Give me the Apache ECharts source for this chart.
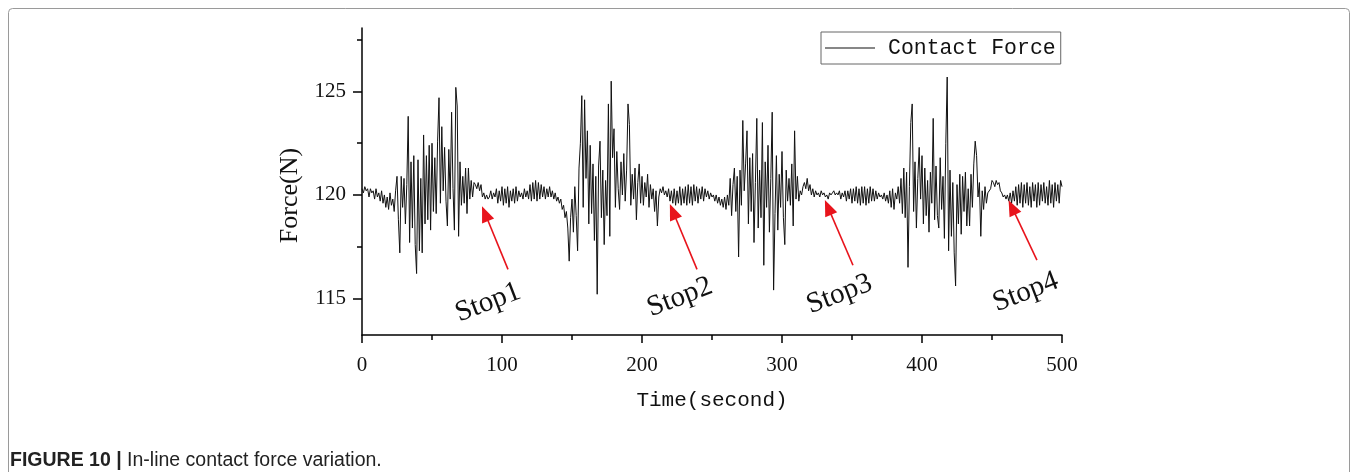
<!DOCTYPE html>
<html>
<head>
<meta charset="utf-8">
<script src="https://cdn.jsdelivr.net/npm/echarts@6/dist/echarts.min.js"></script>
<style>
  html, body { margin: 0; padding: 0; background: #fff; }
  #chart { width: 1354px; height: 472px; }
</style>
</head>
<body>
<div id="chart"></div>
<script>
// 采样间隔（秒）
const timeStep = 1;

// 接触力 (N)，每秒一个点，按时间段分开
const forceA = [ // 0 - 124 s
  120.3,120.1,120.4,120.2,120.3,119.9,120.3,120.1,120.2,119.8,120.3,119.9,120.1,119.7,120.2,119.6,120.0,119.4,119.9,119.3,120.1,119.5,119.8,119.2,120.2,
  120.9,118.8,117.2,120.9,119.4,120.8,118.6,120.5,123.8,117.7,
  121.6,118.4,121.9,117.6,116.2,121.7,117.3,120.8,117.2,122.9,
  118.6,121.9,118.8,122.4,118.3,122.5,119.2,121.8,119.1,122.6,
  124.7,119.6,123.3,120.2,122.3,119.7,118.5,122.2,119.8,124.0,
  120.3,118.3,125.2,124.3,118.0,121.6,119.5,120.9,119.6,121.3,
  119.1,121.3,119.8,120.7,119.9,120.6,
  120.5,120.3,120.6,120.2,120.5,119.9,120.1,119.8,120.0,119.8,
  119.9,120.2,119.8,120.1,119.9,120.3,119.6,120.2,119.7,120.4,
  119.5,120.3,119.6,120.4,119.4,120.2,119.7,120.3,119.6,120.4,
  119.7,120.2,119.9,120.1,119.8,120.3,119.9,120.2,119.8,120.5,
  119.7,120.6,119.8,120.7
];
const forceB = [ // 125 - 249 s
  119.7,120.6,119.8,120.5,119.9,120.4,119.8,120.3,119.9,120.4,119.9,120.2,119.8,120.1,119.7,119.9,
  119.6,119.8,119.3,119.5,118.9,119.2,118.4,116.8,118.9,119.8,
  118.2,120.4,119.0,117.3,121.3,122.5,124.8,119.4,124.6,120.8,
  123.1,118.6,122.4,119.1,121.5,117.8,120.9,115.2,
  121.4,122.6,118.9,121.2,117.6,120.7,119.0,124.4,118.0,125.5,
  121.8,123.2,119.4,122.1,120.3,119.3,121.6,120.0,122.0,119.7,
  121.2,124.4,123.4,119.5,121.0,119.8,121.3,118.8,120.6,121.5,
  119.6,120.9,119.5,120.6,119.9,121.0,119.4,120.5,119.8,120.3,
  119.2,120.2,118.5,119.9,
  120.3,120.1,120.4,120.0,120.2,119.9,120.3,119.7,120.2,119.6,
  120.3,119.5,120.2,119.6,120.4,119.5,120.3,119.6,120.4,119.5,
  120.5,119.6,120.4,119.5,120.5,119.7,120.4,119.6,120.3,119.8,
  120.4,119.7,120.3,119.9,120.2,119.8,120.1
];
const forceC = [ // 250 - 374 s
  119.9,120.0,119.7,120.0,119.6,119.9,119.5,119.8,119.4,119.9,119.3,120.0,119.5,
  120.8,119.0,120.5,121.3,119.2,120.9,117.0,121.2,119.5,123.6,
  120.2,121.5,123.1,118.6,121.8,119.2,122.0,117.7,120.6,123.7,
  118.4,121.2,118.9,123.5,116.6,121.6,119.4,122.4,118.2,120.8,
  124.0,115.4,119.1,121.9,118.3,121.0,119.4,122.1,118.9,117.6,
  121.2,119.7,120.8,119.5,121.5,118.5,123.1,119.8,120.9,119.7,
  120.2,120.0,120.4,120.6,120.3,120.8,120.2,120.5,120.0,120.3,
  119.9,120.2,120.0,120.1,119.9,120.2,120.0,120.1,119.9,120.0,
  119.8,120.1,120.0,120.1,120.2,120.0,120.1,120.0,120.2,119.8,
  120.1,119.9,120.2,119.7,120.2,119.8,120.3,119.6,120.3,119.7,
  120.4,119.6,120.3,119.5,120.4,119.6,120.4,119.5,120.3,119.6,
  120.4,119.7,120.3,119.7,120.2,119.8,120.1,119.9,120.0,119.8,
  120.1,119.7
];
const forceD = [ // 375 - 500 s
  120.0,119.6,120.2,119.4,120.3,119.3,120.1,119.8,120.4,119.6,
  120.8,119.1,121.3,118.9,121.1,116.5,120.4,123.5,124.4,119.2,
  121.6,118.4,120.8,122.3,119.8,121.9,118.6,121.3,119.0,120.7,
  118.2,121.1,119.6,123.7,118.8,121.4,119.0,118.4,121.8,119.3,
  120.9,117.9,122.5,125.7,117.3,121.2,118.0,120.6,117.2,115.6,
  120.5,118.6,121.0,118.1,120.9,119.2,121.1,118.5,120.3,118.5,
  121.0,119.4,121.5,122.6,121.9,119.9,120.6,118.0,120.2,119.3,
  120.4,119.6,120.1,120.1,120.3,120.7,
  120.6,120.4,120.7,120.5,120.6,120.2,120.1,119.9,120.0,119.8,
  120.0,119.7,120.1,119.6,120.2,119.7,120.4,119.5,120.5,119.6,
  120.6,119.4,120.5,119.6,120.6,119.5,120.4,119.4,120.6,119.7,
  120.5,119.4,120.6,119.5,120.5,119.7,120.6,119.6,120.4,119.5,
  120.7,119.6,120.5,119.4,120.6,119.7,120.5,119.6,120.7,120.4
];

// 坐标轴刻度
const yLabelTicks = [115, 120, 125];
const yMinorTicks = [117.5, 122.5, 127.5];

// 停车标注：文字 + 箭头 (数据坐标)
const stopNames = ["Stop1", "Stop2", "Stop3", "Stop4"];
const stopTextAt = [[90, 114.8], [227, 115.05], [341, 115.2], [474, 115.3]];
const arrowFrom = [[104.3, 116.4], [239.3, 116.4], [350.7, 116.6], [482.1, 116.85]];
const arrowTo = [[87.9, 119.1], [222.1, 119.2], [332.9, 119.4], [464.3, 119.4]];

const force = forceA.concat(forceB, forceC, forceD);
const seriesData = force.map((v, i) => [i * timeStep, v]);

const chart = echarts.init(document.getElementById("chart"), null, { renderer: "canvas" });

const serif = "'Liberation Serif', 'Times New Roman', serif";
const mono = "'Liberation Mono', 'DejaVu Sans Mono', monospace";
const sans = "'Liberation Sans', Arial, sans-serif";

const options = {
  animation: false,
  backgroundColor: "#fff",
  grid: { left: 362, right: 292, top: 28, bottom: 137, containLabel: false },
  legend: {
    left: 821,
    top: 32,
    padding: [5, 5, 5, 4],
    itemWidth: 50,
    itemHeight: 14,
    borderColor: "#666",
    borderWidth: 1,
    borderRadius: 0,
    data: [{ name: "Contact Force", icon: "path://M0,9 L100,9 L100,11 L0,11 Z" }],
    itemStyle: { color: "#111" },
    textStyle: { fontFamily: mono, fontSize: 21.5, color: "#111", padding: [0, 0, 0, 8] },
  },
  xAxis: {
    type: "value",
    min: 0,
    max: 500,
    interval: 100,
    name: "Time(second)",
    nameLocation: "middle",
    nameGap: 55,
    nameTextStyle: { fontFamily: mono, fontSize: 21, color: "#111" },
    axisLine: { show: true, onZero: false, lineStyle: { color: "#000", width: 1.5 } },
    axisTick: { show: true, length: 8, lineStyle: { color: "#000", width: 1.5 } },
    minorTick: { show: true, splitNumber: 2, length: 5, lineStyle: { color: "#000", width: 1.5 } },
    axisLabel: { fontFamily: serif, fontSize: 21, color: "#111", margin: 20 },
    splitLine: { show: false },
  },
  yAxis: [
    {
      type: "value",
      min: 113.23,
      max: 128.07,
      name: "Force(N)",
      nameLocation: "middle",
      nameGap: 53,
      nameTextStyle: { fontFamily: serif, fontSize: 26, color: "#111", padding: [0, 28, 0, 0] },
      axisLine: { show: true, onZero: false, lineStyle: { color: "#000", width: 1.5 } },
      axisTick: { show: true, length: 9, customValues: yLabelTicks, lineStyle: { color: "#000", width: 1.5 } },
      axisLabel: { fontFamily: serif, fontSize: 21, color: "#111", margin: 16, customValues: yLabelTicks },
      splitLine: { show: false },
    },
    {
      type: "value",
      min: 113.23,
      max: 128.07,
      position: "left",
      axisLine: { show: false },
      axisTick: { show: true, length: 5, customValues: yMinorTicks, lineStyle: { color: "#000", width: 1.5 } },
      axisLabel: { show: false },
      splitLine: { show: false },
    },
  ],
  series: [
    {
      name: "Contact Force",
      type: "line",
      data: seriesData,
      showSymbol: false,
      symbol: "none",
      lineStyle: { color: "#111", width: 1 },
      itemStyle: { color: "#111" },
      markLine: {
        silent: true,
        symbol: ["none", "triangle"],
        symbolSize: [13, 16],
        label: { show: false },
        lineStyle: { color: "#e8141c", width: 1.6, type: "solid" },
        data: arrowFrom.map((p, i) => [{ coord: p }, { coord: arrowTo[i] }]),
      },
    },
  ],
};

chart.setOption(options);

// 标注文字和外框、图注
const graphics = [
  {
    type: "rect",
    shape: { x: 8.5, y: 8.5, width: 1341, height: 480, r: 4 },
    style: { fill: "none", stroke: "#9a9a9a", lineWidth: 1 },
    silent: true,
  },
  {
    type: "text",
    left: 10,
    top: 451,
    style: {
      text: "{b|FIGURE 10 |} In-line contact force variation.",
      rich: {
        b: { fontWeight: "bold", fontFamily: sans, fontSize: 19.5, fill: "#222" },
      },
      fontFamily: sans,
      fontSize: 19.5,
      fill: "#222",
    },
  },
];
stopNames.forEach((name, i) => {
  const p = chart.convertToPixel({ gridIndex: 0 }, stopTextAt[i]);
  graphics.push({
    type: "text",
    x: p[0],
    y: p[1],
    rotation: (21 * Math.PI) / 180,
    style: {
      text: name,
      fontFamily: serif,
      fontSize: 29,
      fill: "#111",
      align: "center",
      verticalAlign: "middle",
    },
  });
});
chart.setOption({ graphic: graphics });

window.addEventListener("resize", () => {
  chart.resize();
});
</script>
</body>
</html>
